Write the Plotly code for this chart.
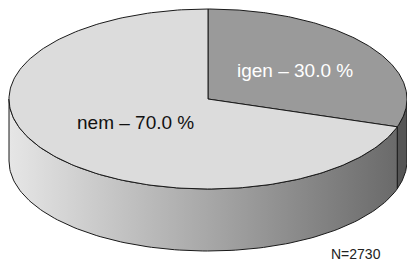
import numpy as np
import plotly.graph_objects as go

# ---- data ----
categories = ["igen", "nem"]
values = [30.0, 70.0]
n_total = 2730
top_colors = ["#9a9a9a", "#dcdcdc"]
label_colors = ["white", "#111111"]

# ---- geometry (pixel-like data space) ----
W, H = 407, 261
cx, cy = 208, 99
rx, ry = 199, 90
depth = 62
label_r = [0.54, 0.45]

def pt(theta_deg, dy=0.0, k=1.0):
    t = np.radians(theta_deg)
    return cx + k * rx * np.sin(t), cy - k * ry * np.cos(t) + dy

fig = go.Figure()
total = sum(values)
angles = []
start = 0.0
for v in values:
    end = start + 360.0 * v / total
    angles.append((start, end))
    start = end

line = dict(color="#1a1a1a", width=1)

# side walls (front half only: 90..270 deg clockwise from top)
for i, (a0, a1) in enumerate(angles):
    s0, s1 = max(a0, 90.0), min(a1, 270.0)
    if s1 <= s0:
        continue
    th = np.linspace(s0, s1, 120)
    xt, yt = pt(th)
    xb, yb = pt(th[::-1], dy=depth)
    xs = np.concatenate([xt, xb, xt[:1]])
    ys = np.concatenate([yt, yb, yt[:1]])
    if categories[i] == "nem":
        fig.add_trace(go.Scatter(
            x=xs, y=ys, mode="lines", line=line, fill="toself",
            fillgradient=dict(type="horizontal",
                              colorscale=[[0, "#e6e6e6"], [0.5, "#a9a9a9"], [1, "#6a6a6a"]]),
            hoverinfo="skip", showlegend=False))
    else:
        fig.add_trace(go.Scatter(
            x=xs, y=ys, mode="lines", line=line, fill="toself",
            fillcolor="#555555", hoverinfo="skip", showlegend=False))

# top sectors
for i, (a0, a1) in enumerate(angles):
    th = np.linspace(a0, a1, 200)
    xe, ye = pt(th)
    xs = np.concatenate([[cx], xe, [cx]])
    ys = np.concatenate([[cy], ye, [cy]])
    fig.add_trace(go.Scatter(
        x=xs, y=ys, mode="lines", line=line, fill="toself",
        fillcolor=top_colors[i], hoverinfo="skip", showlegend=False))

# labels
for i, (a0, a1) in enumerate(angles):
    mid = (a0 + a1) / 2
    lx, ly = pt(mid, k=label_r[i])
    fig.add_annotation(x=lx, y=ly, text=f"{categories[i]} \u2013 {values[i]:.1f} %",
                       showarrow=False, xanchor="center", yanchor="middle",
                       font=dict(family="Liberation Sans, Arial, sans-serif",
                                 size=19, color=label_colors[i]))

fig.add_annotation(x=356, y=244, text=f"N={n_total}", showarrow=False,
                   xanchor="center", yanchor="top",
                   font=dict(family="Liberation Sans, Arial, sans-serif",
                             size=14, color="#222222"))

fig.update_xaxes(range=[0, W], visible=False, fixedrange=True)
fig.update_yaxes(range=[H, 0], visible=False, fixedrange=True)
fig.update_layout(width=W, height=H, margin=dict(l=0, r=0, t=0, b=0),
                  plot_bgcolor="white", paper_bgcolor="white", showlegend=False)
fig.write_html("out.html", post_script="document.body.style.margin='0';",
               config={"displayModeBar": False})
